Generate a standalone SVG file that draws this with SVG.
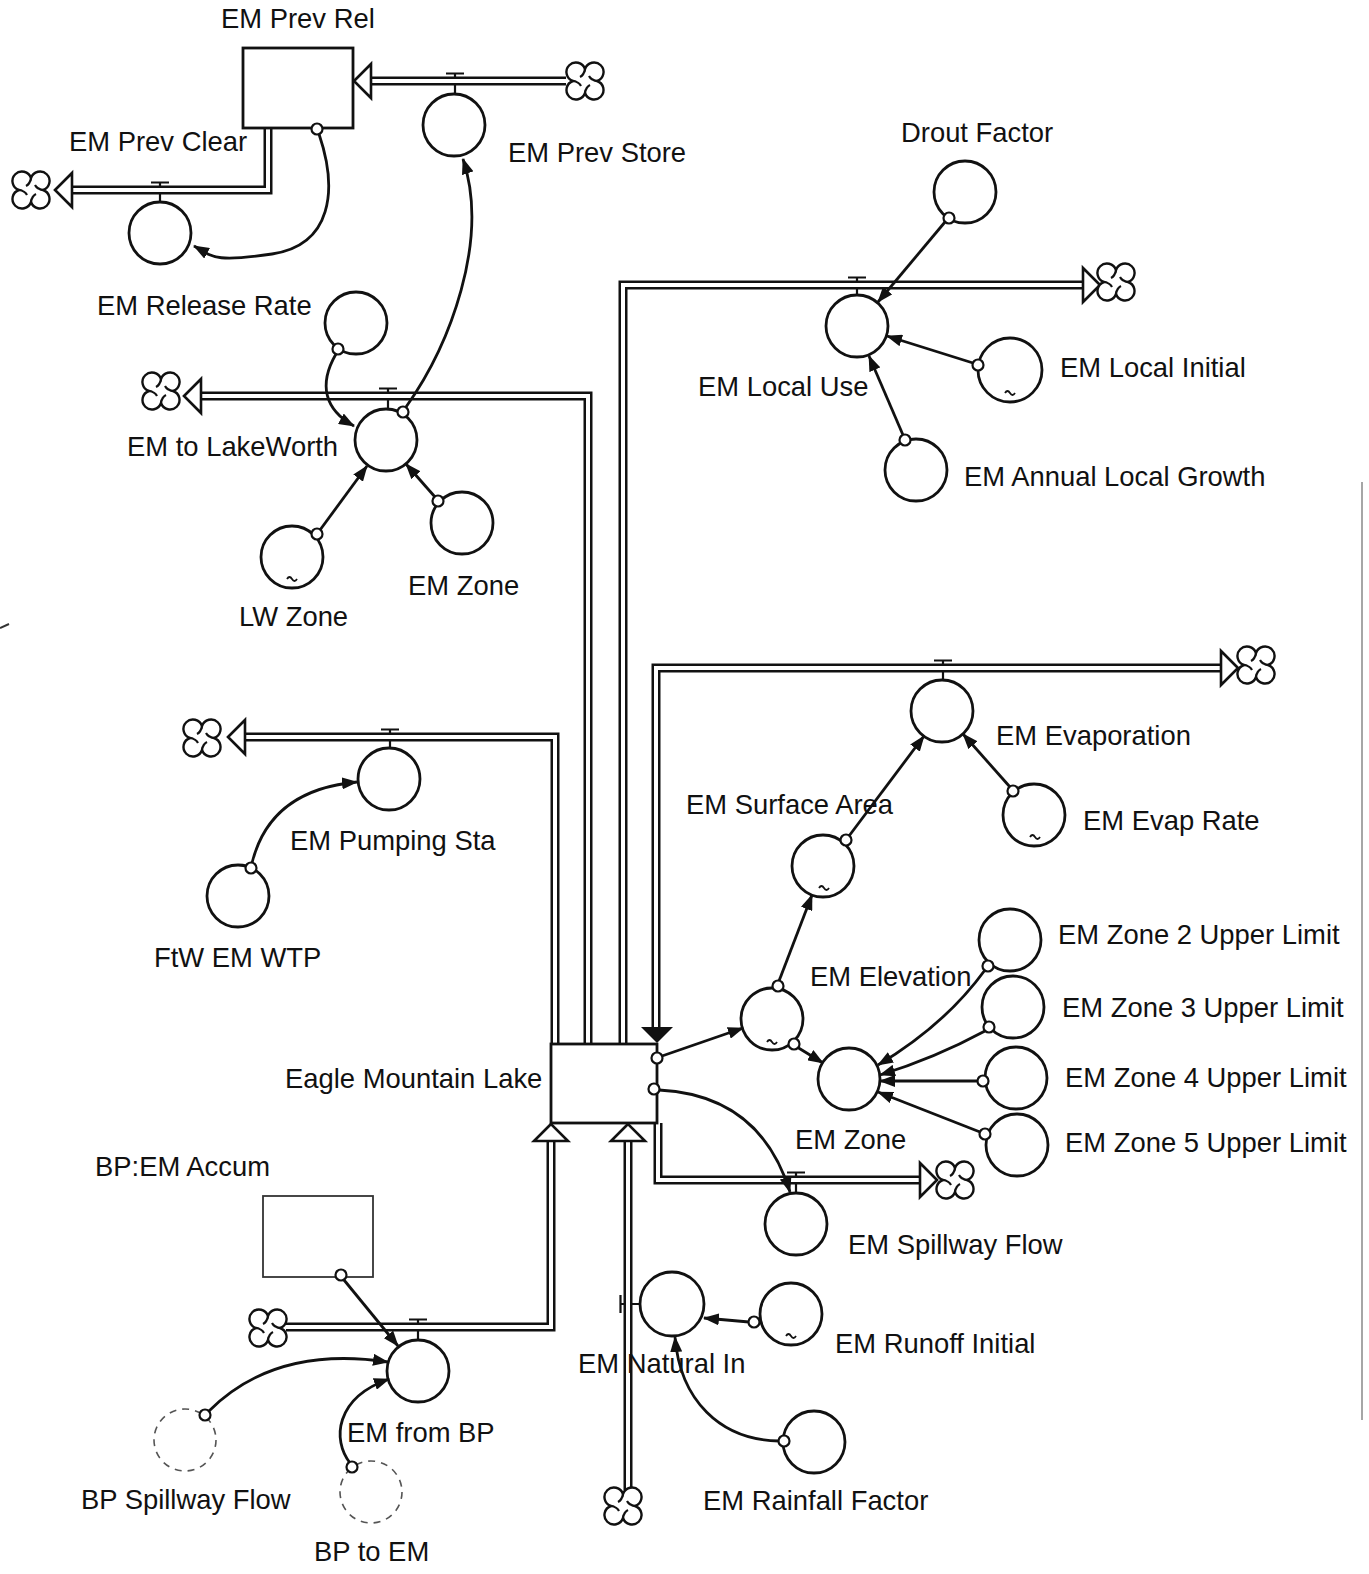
<svg xmlns="http://www.w3.org/2000/svg" xmlns:xlink="http://www.w3.org/1999/xlink" width="1369" height="1574" viewBox="0 0 1369 1574">
<style>
.t{font-family:"Liberation Sans",Arial,sans-serif;font-size:27.4px;fill:#111}
.po{fill:none;stroke:#111;stroke-width:9;stroke-linejoin:miter}
.pi{fill:none;stroke:#fff;stroke-width:4;stroke-linejoin:miter}
.fa{fill:#fff;stroke:#111;stroke-width:2.6;stroke-linejoin:miter}
.cv{fill:#fff;stroke:#111;stroke-width:2.8}
.gh{fill:#fff;stroke:#555;stroke-width:1.6;stroke-dasharray:7 6}
.st{fill:#fff;stroke:#111;stroke-width:2.8}
.st2{fill:#fff;stroke:#333;stroke-width:1.8}
.vl{fill:none;stroke:#111;stroke-width:2.2}
.lk{fill:none;stroke:#111;stroke-width:2.8;marker-end:url(#ah)}
.og{fill:#fff;stroke:#111;stroke-width:2.2}
.tl{fill:none;stroke:#111;stroke-width:1.8}
</style>
<defs>
<marker id="ah" viewBox="0 0 16 12" refX="15" refY="6" markerWidth="16" markerHeight="12" markerUnits="userSpaceOnUse" orient="auto">
<path d="M0,0 L16,6 L0,12 Z" fill="#111"/>
</marker>
<g id="cloud">
<path d="M0,-12 A9.5,9.5 0 1 1 12,0 A9.5,9.5 0 1 1 0,12 A9.5,9.5 0 1 1 -12,0 A9.5,9.5 0 1 1 0,-12 Z" fill="#fff" stroke="#111" stroke-width="2.4"/>
<path d="M0,-12 Q-1,-6 -5,-4 M12,0 Q6,-1 4,-5 M0,12 Q1,6 5,4 M-12,0 Q-6,1 -4,5" fill="none" stroke="#111" stroke-width="2.2"/>
</g>
</defs>
<rect width="1369" height="1574" fill="#fff"/>

<!-- scan edge artifacts -->
<path d="M1362,482 L1362,1420" stroke="#888" stroke-width="1.5" fill="none"/>
<path d="M0,628 L9,624" stroke="#333" stroke-width="2" fill="none"/>

<g id="connectors-pipes">
<path class="po" d="M566,81 L371,81"/><path class="pi" d="M566,81 L371,81"/>
<path class="po" d="M268,127 L268,190 L72,190"/><path class="pi" d="M268,127 L268,190 L72,190"/>
<path class="po" d="M588,1044 L588,396 L201,396"/><path class="pi" d="M588,1044 L588,396 L201,396"/>
<path class="po" d="M555,1044 L555,737 L245,737"/><path class="pi" d="M555,1044 L555,737 L245,737"/>
<path class="po" d="M623,1044 L623,285 L1083,285"/><path class="pi" d="M623,1044 L623,285 L1083,285"/>
<path class="po" d="M656,1027 L656,668 L1221,668"/><path class="pi" d="M656,1027 L656,668 L1221,668"/>
<path class="po" d="M658,1123 L658,1180 L920,1180"/><path class="pi" d="M658,1123 L658,1180 L920,1180"/>
<path class="po" d="M286,1327 L551,1327 L551,1141"/><path class="pi" d="M286,1327 L551,1327 L551,1141"/>
<path class="po" d="M628,1490 L628,1141"/><path class="pi" d="M628,1490 L628,1141"/>
</g>

<g id="EM_Prev_Rel"><rect class="st" x="243" y="48" width="110" height="80"/><text class="t" x="221" y="28">EM Prev Rel</text></g>
<g id="Eagle_Mountain_Lake"><rect class="st" x="551" y="1044" width="106" height="79"/><text class="t" x="285" y="1088">Eagle Mountain Lake</text></g>
<g id="BP_EM_Accum"><rect class="st2" x="263" y="1196" width="110" height="81"/><text class="t" x="95" y="1176">BP:EM Accum</text></g>

<g id="flow-arrowheads">
<polygon class="fa" points="354,81 371,64 371,98"/>
<polygon class="fa" points="55,190 72,173 72,207"/>
<polygon class="fa" points="184,396 201,379 201,413"/>
<polygon class="fa" points="228,737 245,720 245,754"/>
<polygon class="fa" points="1100,285 1083,268 1083,302"/>
<polygon class="fa" points="1238,668 1221,651 1221,685"/>
<polygon class="fa" points="937,1180 920,1163 920,1197"/>
<polygon class="fa" points="551,1124 534,1141 568,1141"/>
<polygon class="fa" points="628,1124 611,1141 645,1141"/>
<polygon points="657,1043 641,1027 673,1027" fill="#111"/>
</g>

<g id="clouds">
<use xlink:href="#cloud" x="585" y="81"/>
<use xlink:href="#cloud" x="31" y="190"/>
<use xlink:href="#cloud" x="161" y="391"/>
<use xlink:href="#cloud" x="202" y="738"/>
<use xlink:href="#cloud" x="1116" y="282"/>
<use xlink:href="#cloud" x="1256" y="665"/>
<use xlink:href="#cloud" x="955" y="1180"/>
<use xlink:href="#cloud" x="268" y="1328"/>
<use xlink:href="#cloud" x="623" y="1506"/>
</g>

<g id="valves">
<path class="vl" d="M446,73.5 L464,73.5 M455,73.5 L455,77 M455,85 L455,94"/>
<path class="vl" d="M151,182.5 L169,182.5 M160,182.5 L160,186 M160,194 L160,202"/>
<path class="vl" d="M379,388.5 L397,388.5 M388,388.5 L388,392 M388,400 L388,409"/>
<path class="vl" d="M381,729.5 L399,729.5 M390,729.5 L390,733 M390,741 L390,748"/>
<path class="vl" d="M848,277.5 L866,277.5 M857,277.5 L857,281 M857,289 L857,295"/>
<path class="vl" d="M934,660.5 L952,660.5 M943,660.5 L943,664 M943,672 L943,680"/>
<path class="vl" d="M787,1172.5 L805,1172.5 M796,1172.5 L796,1176 M796,1184 L796,1193"/>
<path class="vl" d="M409,1319.5 L427,1319.5 M418,1319.5 L418,1323 M418,1331 L418,1340"/>
<path class="vl" d="M620.5,1295 L620.5,1313 M620.5,1304 L624,1304 M632,1304 L640,1304"/>
</g>

<g id="EM_Prev_Store"><circle class="cv" cx="454" cy="125" r="31"/><text class="t" x="508" y="162">EM Prev Store</text></g>
<g id="EM_Prev_Clear"><circle class="cv" cx="160" cy="233" r="31"/><text class="t" x="69" y="151">EM Prev Clear</text></g>
<g id="EM_Release_Rate"><circle class="cv" cx="356" cy="323" r="31"/><text class="t" x="97" y="315">EM Release Rate</text></g>
<g id="EM_to_LakeWorth"><circle class="cv" cx="386" cy="440" r="31"/><text class="t" x="127" y="456">EM to LakeWorth</text></g>
<g id="LW_Zone"><circle class="cv" cx="292" cy="557" r="31"/><path class="tl" d="M287,579 q2.5,-4 5,0 t5,0"/><text class="t" x="239" y="626">LW Zone</text></g>
<g id="EM_Zone_upper"><circle class="cv" cx="462" cy="523" r="31"/><text class="t" x="408" y="595">EM Zone</text></g>
<g id="EM_Pumping_Sta"><circle class="cv" cx="389" cy="779" r="31"/><text class="t" x="290" y="850">EM Pumping Sta</text></g>
<g id="FtW_EM_WTP"><circle class="cv" cx="238" cy="896" r="31"/><text class="t" x="154" y="967">FtW EM WTP</text></g>
<g id="Drout_Factor"><circle class="cv" cx="965" cy="192" r="31"/><text class="t" x="901" y="142">Drout Factor</text></g>
<g id="EM_Local_Use"><circle class="cv" cx="857" cy="326" r="31"/><text class="t" x="698" y="396">EM Local Use</text></g>
<g id="EM_Local_Initial"><circle class="cv" cx="1010" cy="370" r="32"/><path class="tl" d="M1005,393 q2.5,-4 5,0 t5,0"/><text class="t" x="1060" y="377">EM Local Initial</text></g>
<g id="EM_Annual_Local_Growth"><circle class="cv" cx="916" cy="470" r="31"/><text class="t" x="964" y="486">EM Annual Local Growth</text></g>
<g id="EM_Evaporation"><circle class="cv" cx="942" cy="711" r="31"/><text class="t" x="996" y="745">EM Evaporation</text></g>
<g id="EM_Evap_Rate"><circle class="cv" cx="1034" cy="815" r="31"/><path class="tl" d="M1030,837 q2.5,-4 5,0 t5,0"/><text class="t" x="1083" y="830">EM Evap Rate</text></g>
<g id="EM_Surface_Area"><circle class="cv" cx="823" cy="866" r="31"/><path class="tl" d="M819,888 q2.5,-4 5,0 t5,0"/><text class="t" x="686" y="814">EM Surface Area</text></g>
<g id="EM_Elevation"><circle class="cv" cx="772" cy="1019" r="31"/><path class="tl" d="M767,1042 q2.5,-4 5,0 t5,0"/><text class="t" x="810" y="986">EM Elevation</text></g>
<g id="EM_Zone_lower"><circle class="cv" cx="849" cy="1079" r="31"/><text class="t" x="795" y="1149">EM Zone</text></g>
<g id="EM_Zone_2_Upper_Limit"><circle class="cv" cx="1010" cy="940" r="31"/><text class="t" x="1058" y="944">EM Zone 2 Upper Limit</text></g>
<g id="EM_Zone_3_Upper_Limit"><circle class="cv" cx="1013" cy="1007" r="31"/><text class="t" x="1062" y="1017">EM Zone 3 Upper Limit</text></g>
<g id="EM_Zone_4_Upper_Limit"><circle class="cv" cx="1016" cy="1078" r="31"/><text class="t" x="1065" y="1087">EM Zone 4 Upper Limit</text></g>
<g id="EM_Zone_5_Upper_Limit"><circle class="cv" cx="1017" cy="1145" r="31"/><text class="t" x="1065" y="1152">EM Zone 5 Upper Limit</text></g>
<g id="EM_Spillway_Flow"><circle class="cv" cx="796" cy="1224" r="31"/><text class="t" x="848" y="1254">EM Spillway Flow</text></g>
<g id="EM_from_BP"><circle class="cv" cx="418" cy="1371" r="31"/><text class="t" x="347" y="1442">EM from BP</text></g>
<g id="BP_Spillway_Flow"><circle class="gh" cx="185" cy="1440" r="31"/><text class="t" x="81" y="1509">BP Spillway Flow</text></g>
<g id="BP_to_EM"><circle class="gh" cx="371" cy="1492" r="31"/><text class="t" x="314" y="1561">BP to EM</text></g>
<g id="EM_Natural_In"><circle class="cv" cx="672" cy="1304" r="32"/><text class="t" x="578" y="1373">EM Natural In</text></g>
<g id="EM_Runoff_Initial"><circle class="cv" cx="791" cy="1314" r="31"/><path class="tl" d="M786,1336 q2.5,-4 5,0 t5,0"/><text class="t" x="835" y="1353">EM Runoff Initial</text></g>
<g id="EM_Rainfall_Factor"><circle class="cv" cx="814" cy="1442" r="31"/><text class="t" x="703" y="1510">EM Rainfall Factor</text></g>

<g id="connectors">
<path class="lk" d="M319,134 C338,190 332,245 272,254 S212,256 194,246"/>
<path class="lk" d="M336,354 C318,385 325,410 354,426"/>
<path class="lk" d="M406,407 C450,345 490,240 463,159"/>
<path class="lk" d="M320,530 L367,466"/>
<path class="lk" d="M435,497 L406,464"/>
<path class="lk" d="M252,863 Q270,790 357,782"/>
<path class="lk" d="M945,222 L878,302"/>
<path class="lk" d="M973,363 L887,336"/>
<path class="lk" d="M903,435 L869,356"/>
<path class="lk" d="M1010,787 L963,734"/>
<path class="lk" d="M849,836 L924,736"/>
<path class="lk" d="M779,981 L812,895"/>
<path class="lk" d="M662,1056 L743,1028"/>
<path class="lk" d="M797,1047 L823,1063"/>
<path class="lk" d="M985,970 Q945,1025 878,1065"/>
<path class="lk" d="M985,1031 Q935,1058 880,1075"/>
<path class="lk" d="M978,1081 L880,1081"/>
<path class="lk" d="M980,1132 L878,1092"/>
<path class="lk" d="M659,1090 Q760,1095 790,1192"/>
<path class="lk" d="M344,1280 L398,1346"/>
<path class="lk" d="M209,1411 Q275,1345 388,1362"/>
<path class="lk" d="M350,1463 C332,1440 335,1398 389,1379"/>
<path class="lk" d="M749,1322 L704,1318"/>
<path class="lk" d="M779,1441 C720,1440 680,1400 675,1337"/>
</g>

<g id="connector-origins">
<circle class="og" cx="317" cy="129" r="5.5"/>
<circle class="og" cx="338" cy="349" r="5.5"/>
<circle class="og" cx="403" cy="412" r="5.5"/>
<circle class="og" cx="317" cy="534" r="5.5"/>
<circle class="og" cx="438" cy="501" r="5.5"/>
<circle class="og" cx="251" cy="868" r="5.5"/>
<circle class="og" cx="949" cy="218" r="5.5"/>
<circle class="og" cx="978" cy="365" r="5.5"/>
<circle class="og" cx="905" cy="440" r="5.5"/>
<circle class="og" cx="1013" cy="791" r="5.5"/>
<circle class="og" cx="846" cy="840" r="5.5"/>
<circle class="og" cx="778" cy="986" r="5.5"/>
<circle class="og" cx="657" cy="1058" r="5.5"/>
<circle class="og" cx="654" cy="1089" r="5.5"/>
<circle class="og" cx="794" cy="1044" r="5.5"/>
<circle class="og" cx="988" cy="966" r="5.5"/>
<circle class="og" cx="989" cy="1027" r="5.5"/>
<circle class="og" cx="983" cy="1081" r="5.5"/>
<circle class="og" cx="985" cy="1134" r="5.5"/>
<circle class="og" cx="341" cy="1275" r="5.5"/>
<circle class="og" cx="205" cy="1415" r="5.5"/>
<circle class="og" cx="352" cy="1467" r="5.5"/>
<circle class="og" cx="754" cy="1322" r="5.5"/>
<circle class="og" cx="784" cy="1441" r="5.5"/>
</g>
</svg>
